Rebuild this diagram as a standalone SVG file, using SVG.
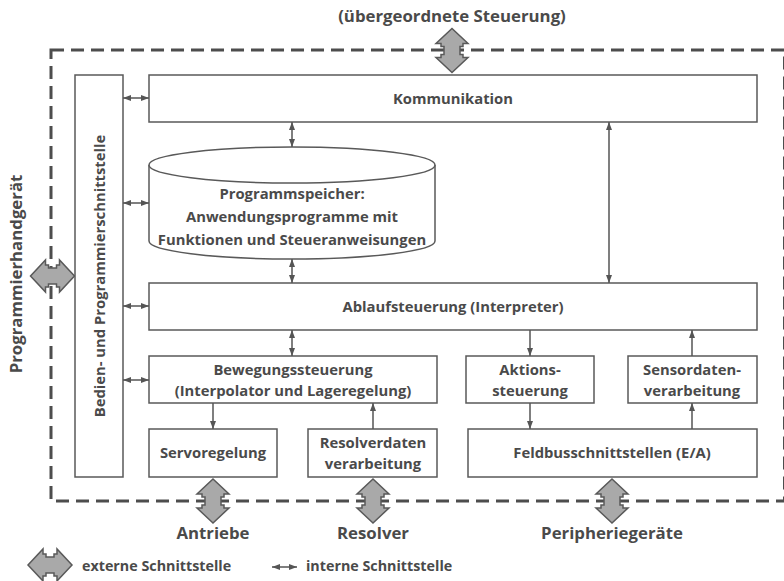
<svg xmlns="http://www.w3.org/2000/svg" width="784" height="581" viewBox="0 0 784 581">
  <style>
    text { font-family: "Open Sans", "Liberation Sans", sans-serif; font-weight: bold; fill: #4a4a4a; }
    .lbl { font-size: 14.8px; text-anchor: middle; }
    .ext { font-size: 16.8px; text-anchor: middle; }
    .leg { font-size: 14.3px; }
    .box { fill: #ffffff; stroke: #595959; stroke-width: 1.5; }
    .frame { fill: none; stroke: #4d4d4d; stroke-width: 3; stroke-dasharray: 13 7; }
    .con { stroke: #555555; stroke-width: 1.5; fill: none; }
    .bi { marker-start: url(#ah); marker-end: url(#ah); }
    .uni { marker-end: url(#ah); }
    .big { fill: #a9a9a9; stroke: #595959; stroke-width: 1.5; stroke-linejoin: miter; }
  </style>
  <defs>
    <marker id="ah" viewBox="0 0 8 6" refX="8" refY="3" markerWidth="8" markerHeight="6" markerUnits="userSpaceOnUse" orient="auto-start-reverse">
      <path d="M0,0 L8,3 L0,6 Z" fill="#555555"/>
    </marker>
    <!-- double block arrow with a notch in the middle of its shaft, centred on 0,0 -->
    <path id="blockArrow" d="M0,-22 L16,-7 L11,-7 L11,-4 L8,-4 L8,4 L11,4 L11,7 L16,7 L0,22 L-16,7 L-11,7 L-11,4 L-8,4 L-8,-4 L-11,-4 L-11,-7 L-16,-7 Z"/>
  </defs>

  <rect width="784" height="581" fill="#ffffff"/>

  <!-- device boundary -->
  <rect class="frame" x="51" y="50" width="733.5" height="451"/>

  <!-- external interfaces -->
  <g id="ext-steuerung">
    <use href="#blockArrow" class="big" transform="translate(452,50.5)"/>
    <text class="ext" x="452" y="22">(übergeordnete Steuerung)</text>
  </g>
  <g id="ext-handgeraet">
    <use href="#blockArrow" class="big" transform="translate(52.5,276) rotate(90)"/>
    <text class="ext" transform="translate(22,274) rotate(-90)">Programmierhandgerät</text>
  </g>
  <g id="ext-antriebe">
    <use href="#blockArrow" class="big" transform="translate(213,501)"/>
    <text class="ext" x="213" y="539">Antriebe</text>
  </g>
  <g id="ext-resolver">
    <use href="#blockArrow" class="big" transform="translate(373,501)"/>
    <text class="ext" x="373" y="539">Resolver</text>
  </g>
  <g id="ext-peripherie">
    <use href="#blockArrow" class="big" transform="translate(612,501)"/>
    <text class="ext" x="612" y="539">Peripheriegeräte</text>
  </g>

  <!-- nodes -->
  <g id="bedien">
    <rect class="box" x="75" y="75" width="48" height="402"/>
    <text class="lbl" transform="translate(105,276) rotate(-90)">Bedien- und Programmierschnittstelle</text>
  </g>
  <g id="kommunikation">
    <rect class="box" x="149" y="75" width="608" height="47"/>
    <text class="lbl" x="453" y="104">Kommunikation</text>
  </g>
  <g id="programmspeicher">
    <path class="box" d="M149,165 V241 A143,18 0 0 0 435,241 V165"/>
    <ellipse class="box" cx="292" cy="165" rx="143" ry="18"/>
    <text class="lbl" x="292" y="199">Programmspeicher:</text>
    <text class="lbl" x="292" y="222">Anwendungsprogramme mit</text>
    <text class="lbl" x="292" y="245">Funktionen und Steueranweisungen</text>
  </g>
  <g id="ablaufsteuerung">
    <rect class="box" x="149" y="283" width="608" height="47"/>
    <text class="lbl" x="453" y="312">Ablaufsteuerung (Interpreter)</text>
  </g>
  <g id="bewegungssteuerung">
    <rect class="box" x="149" y="356" width="288" height="47"/>
    <text class="lbl" x="293" y="375">Bewegungssteuerung</text>
    <text class="lbl" x="293" y="396">(Interpolator und Lageregelung)</text>
  </g>
  <g id="aktionssteuerung">
    <rect class="box" x="466" y="356" width="128" height="47"/>
    <text class="lbl" x="530" y="375">Aktions-</text>
    <text class="lbl" x="530" y="396">steuerung</text>
  </g>
  <g id="sensordaten">
    <rect class="box" x="628" y="356" width="129" height="47"/>
    <text class="lbl" x="692" y="375">Sensordaten-</text>
    <text class="lbl" x="692" y="396">verarbeitung</text>
  </g>
  <g id="servoregelung">
    <rect class="box" x="149" y="429" width="128" height="48"/>
    <text class="lbl" x="213" y="458">Servoregelung</text>
  </g>
  <g id="resolverdaten">
    <rect class="box" x="308" y="429" width="129" height="48"/>
    <text class="lbl" x="373" y="448">Resolverdaten</text>
    <text class="lbl" x="373" y="469">verarbeitung</text>
  </g>
  <g id="feldbus">
    <rect class="box" x="468" y="429" width="289" height="48"/>
    <text class="lbl" x="612" y="458">Feldbusschnittstellen (E/A)</text>
  </g>

  <!-- internal interfaces -->
  <g id="connectors">
    <line class="con bi" x1="123" y1="98" x2="149" y2="98"/>
    <line class="con bi" x1="123" y1="203" x2="149" y2="203"/>
    <line class="con bi" x1="123" y1="306" x2="149" y2="306"/>
    <line class="con bi" x1="123" y1="380" x2="149" y2="380"/>
    <line class="con bi" x1="292" y1="122" x2="292" y2="147"/>
    <line class="con bi" x1="292" y1="259" x2="292" y2="283"/>
    <line class="con bi" x1="609" y1="122" x2="609" y2="283"/>
    <line class="con bi" x1="292" y1="330" x2="292" y2="356"/>
    <line class="con uni" x1="530" y1="330" x2="530" y2="356"/>
    <line class="con uni" x1="692" y1="356" x2="692" y2="330"/>
    <line class="con uni" x1="213" y1="403" x2="213" y2="429"/>
    <line class="con uni" x1="373" y1="429" x2="373" y2="403"/>
    <line class="con uni" x1="530" y1="403" x2="530" y2="429"/>
    <line class="con uni" x1="692" y1="429" x2="692" y2="403"/>
  </g>

  <!-- legend -->
  <g id="legend">
    <use href="#blockArrow" class="big" transform="translate(50,565) rotate(90)"/>
    <text class="leg" x="82" y="571">externe Schnittstelle</text>
    <line class="con bi" x1="272" y1="567" x2="297" y2="567"/>
    <text class="leg" x="306" y="571">interne Schnittstelle</text>
  </g>
</svg>
